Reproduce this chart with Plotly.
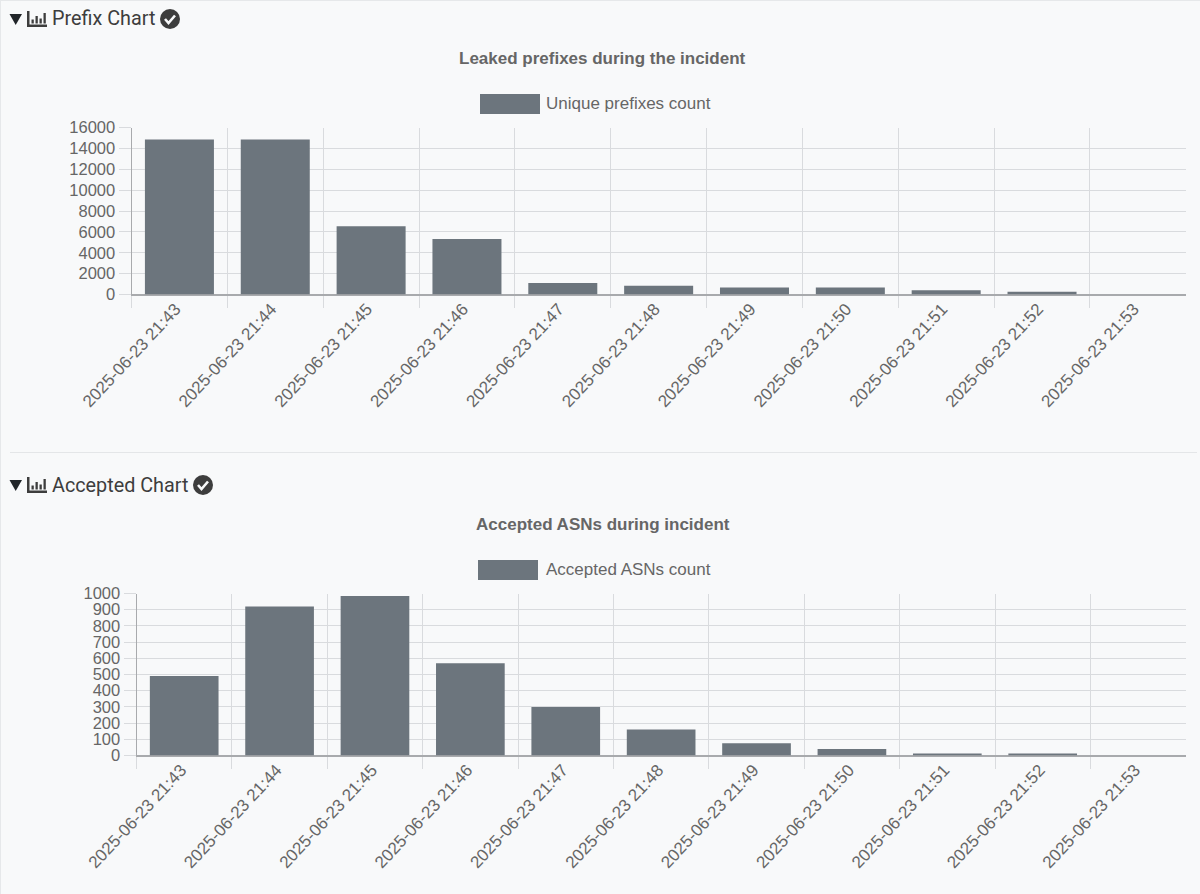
import plotly.graph_objects as go

W, H = 1200, 894
times = ["2025-06-23 21:%02d" % m for m in range(43, 54)]
prefix_counts = [14850, 14850, 6550, 5320, 1100, 830, 680, 680, 400, 270, 0]
asn_counts = [490, 920, 985, 570, 300, 160, 75, 40, 10, 10, 0]
section_titles = ["Prefix Chart", "Accepted Chart"]
chart_titles = ["Leaked prefixes during the incident", "Accepted ASNs during incident"]
legend_names = ["Unique prefixes count", "Accepted ASNs count"]

BAR = "#6c757d"
GRID = "#d9dbde"
AXIS = "#a8aaad"
TEXT = "#666666"
HEAD = "#3d3d3d"
SANS = "Liberation Sans"

def X(p): return p / W
def Y(p): return 1 - p / H

fig = go.Figure()
fig.add_trace(go.Bar(x=times, y=prefix_counts, marker_color=BAR, name=legend_names[0], xaxis="x", yaxis="y", showlegend=False))
fig.add_trace(go.Bar(x=times, y=asn_counts, marker_color=BAR, name=legend_names[1], xaxis="x2", yaxis="y2", showlegend=False))

xcommon = dict(type="category", tickson="boundaries", tickangle=-47, showgrid=True, gridcolor=GRID, gridwidth=1,
               ticks="outside", ticklen=12, tickcolor=GRID, tickfont=dict(family=SANS, size=17, color=TEXT),
               showline=True, linecolor=AXIS, linewidth=1, zeroline=False, automargin=False,
               ticklabelstandoff=-3, range=[-0.5, 10.497])
ycommon = dict(showgrid=True, gridcolor=GRID, gridwidth=1, ticks="outside", ticklen=12, tickcolor=GRID,
               tickfont=dict(family=SANS, size=16.5, color=TEXT), showline=True, linecolor=AXIS, linewidth=1,
               zeroline=True, zerolinecolor=AXIS, zerolinewidth=1, automargin=False, tickformat="d")

shapes = [
    dict(type="line", xref="paper", yref="paper", x0=X(0.5), x1=X(0.5), y0=Y(0), y1=Y(894), line=dict(color="#e6e8ea", width=1)),
    dict(type="line", xref="paper", yref="paper", x0=X(0), x1=X(1200), y0=Y(0.5), y1=Y(0.5), line=dict(color="#e6e8ea", width=1)),
    dict(type="line", xref="paper", yref="paper", x0=X(10), x1=X(1197), y0=Y(452.5), y1=Y(452.5), line=dict(color="#e4e6e8", width=1)),
]
annotations = []

def P(points):
    return "M" + " L".join(f"{X(a):.5f},{Y(b):.5f}" for a, b in points) + " Z"

def header(cy, title, text_w):
    shapes.append(dict(type="path", xref="paper", yref="paper", fillcolor="#212529", line=dict(width=0),
                       path=P([(9.5, cy - 5), (22, cy - 5), (15.7, cy + 6)])))
    for r in [(27, cy + 5.5, 47, cy + 8), (27, cy - 8, 29.5, cy + 8), (31.5, cy + 0.5, 33.8, cy + 4.5),
              (35.5, cy - 3, 37.8, cy + 4.5), (39.5, cy - 0.5, 41.8, cy + 4.5), (43.5, cy - 6, 45.8, cy + 4.5)]:
        shapes.append(dict(type="rect", xref="paper", yref="paper", x0=X(r[0]), x1=X(r[2]), y0=Y(r[1]), y1=Y(r[3]),
                           fillcolor=HEAD, line=dict(width=0)))
    annotations.append(dict(text=title, xref="paper", yref="paper", x=X(49.5), y=Y(cy), xanchor="left", yanchor="middle",
                            showarrow=False, font=dict(family="Roboto", size=19.8, color=HEAD)))
    cx = 52 + text_w + 14
    shapes.append(dict(type="circle", xref="paper", yref="paper", x0=X(cx - 10), x1=X(cx + 10), y0=Y(cy - 10), y1=Y(cy + 10),
                       fillcolor=HEAD, line=dict(width=0)))
    shapes.append(dict(type="path", xref="paper", yref="paper", fillcolor="rgba(0,0,0,0)",
                       line=dict(color="#f8f9fa", width=2.6),
                       path="M" + " L".join(f"{X(a):.5f},{Y(b):.5f}" for a, b in [(cx - 5, cy), (cx - 1.5, cy + 4), (cx + 5, cy - 3.5)])))

def chart_head(title, legend, title_y, legend_y, swatch_x0, text_gap):
    annotations.append(dict(text=f"<b>{title}</b>", xref="paper", yref="paper", x=X(603), y=Y(title_y), xanchor="center",
                            yanchor="middle", showarrow=False, font=dict(family=SANS, size=17, color=TEXT)))
    shapes.append(dict(type="rect", xref="paper", yref="paper", x0=X(swatch_x0), x1=X(swatch_x0 + 60),
                       y0=Y(legend_y - 10), y1=Y(legend_y + 10), fillcolor=BAR, line=dict(width=0)))
    annotations.append(dict(text=legend, xref="paper", yref="paper", x=X(swatch_x0 + text_gap), y=Y(legend_y - 0.5), xanchor="left",
                            yanchor="middle", showarrow=False, font=dict(family=SANS, size=17, color=TEXT)))

header(19, section_titles[0], 104)
header(485, section_titles[1], 137)
chart_head(chart_titles[0], legend_names[0], 58.5, 104, 480, 64)
chart_head(chart_titles[1], legend_names[1], 524, 570, 478, 65.5)

fig.update_layout(
    template="none", width=W, height=H, margin=dict(l=0, r=0, t=0, b=0, autoexpand=False), paper_bgcolor="#f8f9fa",
    plot_bgcolor="rgba(0,0,0,0)", bargap=0.28, showlegend=False, shapes=shapes, annotations=annotations,
    xaxis=dict(domain=[X(131.5), X(1185.5)], anchor="y", ticklabelshift=-4, **xcommon),
    yaxis=dict(domain=[Y(294.5), Y(127.5)], anchor="x", range=[0, 16000], tickvals=list(range(0, 16001, 2000)), **ycommon),
    xaxis2=dict(domain=[X(136.5), X(1185.5)], anchor="y2", ticklabelshift=-3, **xcommon),
    yaxis2=dict(domain=[Y(755.5), Y(593.5)], anchor="x2", range=[0, 1000], tickvals=list(range(0, 1001, 100)), **ycommon),
)

fig.write_html("out.html", config=dict(displayModeBar=False),
               post_script="document.body.style.margin='0';document.body.style.overflow='hidden';")
